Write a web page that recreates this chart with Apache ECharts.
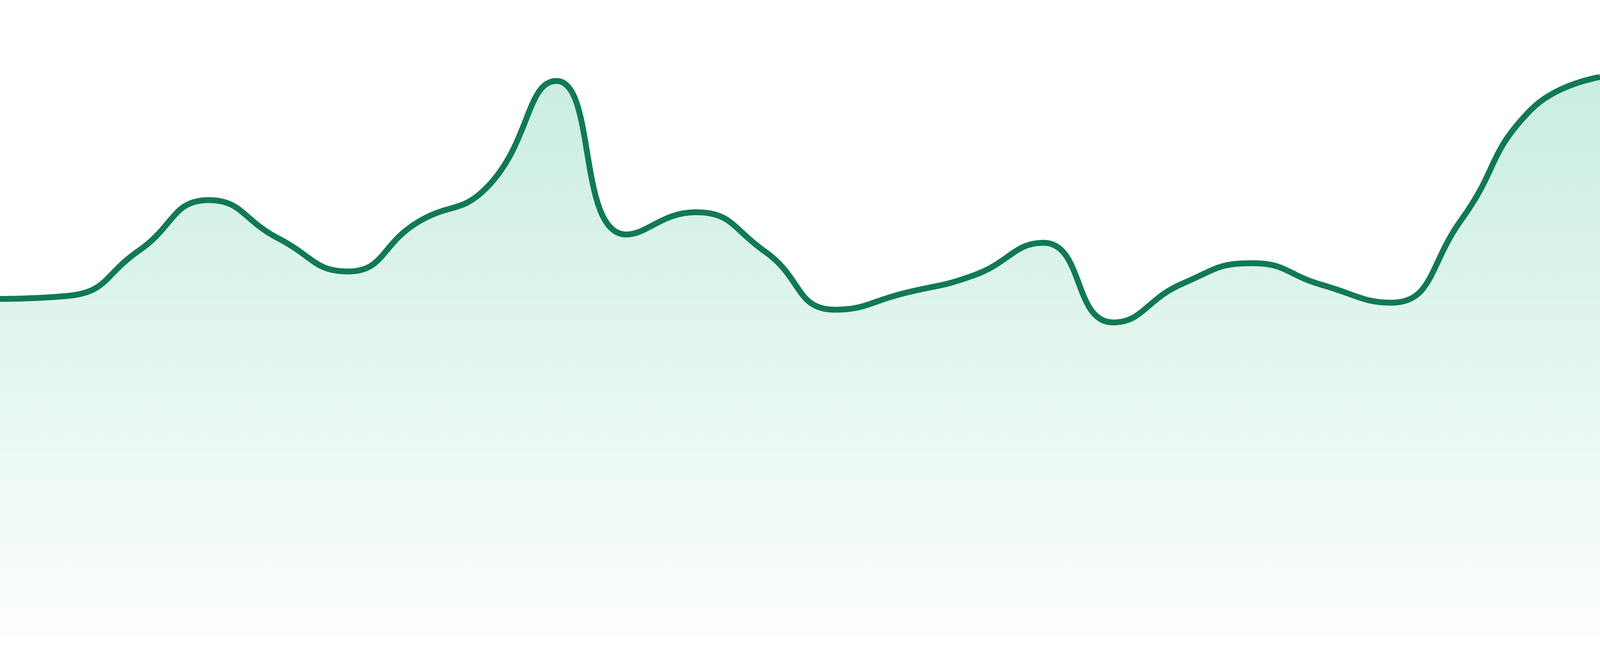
<!DOCTYPE html>
<html>
<head>
	<meta charset="utf-8">
	<title>sparkline</title>
	<script src="https://cdn.jsdelivr.net/npm/echarts@6/dist/echarts.min.js"></script>
	<style>
		html, body {
			margin: 0;
			height: 100%;
			background: #ffffff;
		}
		#main {
			width: 100%;
			height: 100%;
		}
	</style>
</head>
<body>
<div id="main"></div>
<script>
	// 24 points (axis 0..100)
	var categories = ['1', '2', '3', '4', '5', '6', '7', '8', '9', '10', '11', '12',
		'13', '14', '15', '16', '17', '18', '19', '20', '21', '22', '23', '24'];
	var values = [53.1, 53.6, 60.7, 68.6, 62.6, 57.4, 65.1, 70.6, 87.3, 63.2, 66.7, 60.5,
		51.4, 54.0, 56.8, 61.9, 49.4, 55.5, 58.7, 55.3, 52.5, 65.4, 82.7, 87.9];

	var myChart = echarts.init(document.getElementById('main'));

	var option = {
		animation: false,
		grid: {
			left: 0,
			right: 0,
			top: 0,
			bottom: 48
		},
		xAxis: {
			type: 'category',
			data: categories,
			boundaryGap: false,
			show: false
		},
		yAxis: {
			type: 'value',
			min: 0,
			max: 100,
			show: false
		},
		series: [{
			type: 'line',
			data: values,
			smooth: true,
			symbol: 'none',
			lineStyle: {
				color: '#117a52',
				width: 15
			},
			areaStyle: {
				color: new echarts.graphic.LinearGradient(0, 0, 0, 1, [
					{offset: 0, color: 'rgba(35, 184, 126, 0.35)'},
					{offset: 1, color: 'rgba(35, 184, 126, 0.015)'}
				])
			}
		}]
	};
	myChart.setOption(option);
</script>
</body>
</html>
